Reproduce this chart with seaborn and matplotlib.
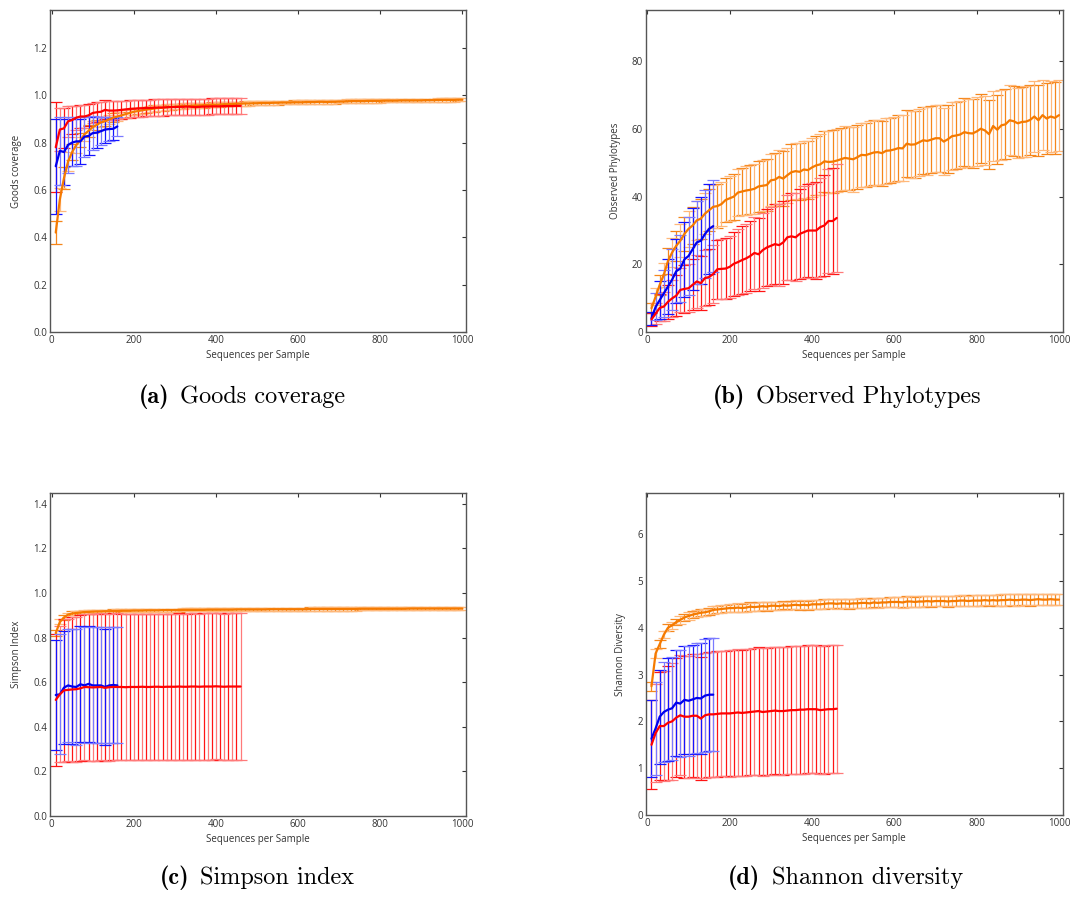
import numpy as np
import pandas as pd
import matplotlib
matplotlib.use("Agg")
import matplotlib.pyplot as plt
from matplotlib.offsetbox import TextArea, HPacker, AnnotationBbox
import seaborn as sns

# Rarefaction depths (sequences per sample)
x_blue = list(range(10, 161, 10))
x_red = list(range(10, 461, 10))
x_orange = list(range(10, 1001, 10))

# ---------------- Goods coverage ----------------
goods_blue = [0.70, 0.765, 0.76, 0.79, 0.80, 0.805, 0.805, 0.825, 0.828, 0.84,
              0.842, 0.848, 0.855, 0.857, 0.858, 0.868]
goods_blue_sd = [0.20, 0.145, 0.14, 0.12, 0.10, 0.105, 0.095, 0.085, 0.08, 0.072,
                 0.066, 0.06, 0.055, 0.05, 0.046, 0.042]
goods_red = [0.78, 0.855, 0.86, 0.89, 0.895, 0.905, 0.91, 0.91, 0.915, 0.925,
             0.928, 0.93, 0.938, 0.935, 0.935, 0.936, 0.938, 0.94, 0.942, 0.943,
             0.944, 0.945, 0.946, 0.946, 0.947, 0.948, 0.948, 0.949, 0.95, 0.95,
             0.951, 0.951, 0.952, 0.951, 0.95, 0.951, 0.952, 0.952, 0.953, 0.953,
             0.953, 0.954, 0.954, 0.954, 0.955, 0.955]
goods_red_sd = [0.19, 0.09, 0.085, 0.065, 0.06, 0.05, 0.05, 0.048, 0.046, 0.044,
                0.042, 0.041, 0.04, 0.04, 0.039, 0.038, 0.038, 0.037, 0.037, 0.036,
                0.036, 0.036, 0.035, 0.035, 0.035, 0.035, 0.034, 0.034, 0.034, 0.034,
                0.034, 0.034, 0.034, 0.034, 0.034, 0.034, 0.034, 0.034, 0.034, 0.034,
                0.034, 0.034, 0.034, 0.034, 0.034, 0.034]
goods_orange = [0.42, 0.56, 0.65, 0.72, 0.76, 0.79, 0.81, 0.835, 0.85, 0.865,
                0.875, 0.885, 0.89, 0.898, 0.905, 0.91, 0.915, 0.92, 0.925, 0.93,
                0.933, 0.936, 0.939, 0.941, 0.944, 0.946, 0.947, 0.949, 0.95, 0.952,
                0.953, 0.954, 0.955, 0.956, 0.957, 0.957, 0.958, 0.959, 0.96, 0.96,
                0.961, 0.962, 0.962, 0.963, 0.964, 0.964, 0.965, 0.965, 0.966, 0.966,
                0.967, 0.967, 0.967, 0.968, 0.968, 0.969, 0.969, 0.969, 0.97, 0.97,
                0.97, 0.971, 0.971, 0.971, 0.972, 0.972, 0.971, 0.972, 0.972, 0.973,
                0.973, 0.974, 0.975, 0.975, 0.975, 0.975, 0.976, 0.976, 0.976, 0.976,
                0.977, 0.977, 0.977, 0.977, 0.978, 0.978, 0.978, 0.978, 0.978, 0.978,
                0.979, 0.979, 0.979, 0.98, 0.98, 0.98, 0.98, 0.98, 0.981, 0.981]
goods_orange_sd = [0.05, 0.05, 0.045, 0.04, 0.035, 0.033, 0.03, 0.028, 0.026, 0.024,
                   0.022, 0.021, 0.02, 0.019, 0.018, 0.017, 0.016, 0.016, 0.015, 0.015,
                   0.014, 0.014, 0.013, 0.013, 0.013, 0.012, 0.012, 0.012, 0.012, 0.011,
                   0.011, 0.011, 0.011, 0.011, 0.010, 0.010, 0.010, 0.010, 0.010, 0.010,
                   0.010, 0.009, 0.009, 0.009, 0.009, 0.009, 0.009, 0.009, 0.009, 0.009,
                   0.009, 0.009, 0.008, 0.008, 0.008, 0.008, 0.008, 0.008, 0.008, 0.008,
                   0.008, 0.008, 0.008, 0.008, 0.008, 0.008, 0.008, 0.008, 0.008, 0.008,
                   0.008, 0.008, 0.008, 0.008, 0.008, 0.008, 0.008, 0.008, 0.008, 0.008,
                   0.007, 0.007, 0.007, 0.007, 0.007, 0.007, 0.007, 0.007, 0.007, 0.007,
                   0.007, 0.007, 0.007, 0.007, 0.007, 0.007, 0.007, 0.007, 0.007, 0.007]

# ---------------- Observed phylotypes ----------------
obs_blue = [4.1, 7.5, 9.5, 11.5, 13.5, 15.5, 18.0, 18.8, 21.5, 22.5,
            24.5, 26.5, 27.0, 29.0, 30.5, 31.3]
obs_blue_sd = [2.0, 4.0, 5.5, 7.0, 8.0, 9.0, 9.5, 10.0, 11.0, 11.5,
               12.0, 12.3, 12.8, 13.0, 13.2, 13.5]
obs_red = [3.8, 5.5, 7.2, 7.6, 9.0, 10.0, 10.8, 12.5, 12.8, 13.0,
           14.0, 15.0, 14.5, 16.0, 16.3, 17.2, 18.6, 18.7, 18.8, 19.3,
           20.2, 20.7, 21.3, 21.8, 22.5, 23.4, 23.0, 24.2, 25.0, 25.5,
           26.0, 25.7, 26.5, 28.0, 28.3, 28.0, 29.0, 29.5, 30.0, 30.0,
           30.0, 31.0, 31.5, 32.8, 32.8, 33.7]
obs_red_sd = [2.0, 3.0, 4.0, 4.2, 5.0, 5.5, 6.0, 6.5, 7.0, 7.0,
              7.5, 7.8, 8.0, 8.2, 8.3, 8.5, 8.7, 8.8, 9.0, 9.2,
              9.5, 9.7, 9.9, 10.1, 10.3, 10.5, 10.8, 11.0, 11.2, 11.5,
              11.8, 12.0, 12.2, 12.5, 12.8, 13.0, 13.3, 13.5, 13.8, 14.0,
              14.3, 14.6, 15.0, 15.4, 15.7, 16.0]
obs_orange = [7.1, 10.5, 14.0, 17.0, 21.0, 23.5, 25.5, 27.0, 29.0, 30.5,
              31.5, 33.0, 33.5, 35.0, 36.0, 37.0, 37.2, 37.8, 39.0, 39.5,
              40.0, 41.2, 41.5, 41.8, 42.0, 42.3, 43.0, 43.2, 43.4, 44.8,
              45.0, 45.8, 45.3, 46.3, 47.2, 47.5, 47.3, 48.0, 47.8, 48.6,
              49.2, 49.5, 50.4, 50.2, 50.3, 50.6, 51.0, 51.4, 51.2, 51.0,
              51.6, 52.3, 52.2, 52.6, 53.0, 53.1, 52.8, 53.5, 53.6, 53.9,
              54.3, 54.2, 55.6, 55.3, 55.4, 56.0, 56.6, 56.4, 56.8, 57.2,
              57.2, 56.2, 56.9, 57.8, 58.0, 58.3, 59.0, 58.7, 58.6, 59.2,
              60.0, 59.5, 58.4, 60.8, 59.7, 61.0, 61.3, 62.5, 62.2, 61.6,
              62.0, 62.1, 62.6, 63.6, 62.5, 64.0, 63.0, 63.6, 63.2, 64.0]
obs_orange_sd = [1.5, 2.5, 3.0, 3.5, 3.8, 4.2, 4.5, 4.8, 5.0, 5.3,
                 5.5, 5.7, 5.9, 6.0, 6.2, 6.3, 6.4, 6.5, 6.6, 6.7,
                 6.8, 6.9, 7.0, 7.1, 7.2, 7.3, 7.4, 7.5, 7.6, 7.7,
                 7.8, 7.9, 8.0, 8.1, 8.2, 8.3, 8.4, 8.5, 8.6, 8.7,
                 8.8, 8.9, 9.0, 9.1, 9.2, 9.3, 9.3, 9.4, 9.4, 9.5,
                 9.5, 9.5, 9.5, 9.6, 9.6, 9.6, 9.6, 9.7, 9.7, 9.7,
                 9.7, 9.7, 9.8, 9.8, 9.8, 9.8, 9.8, 9.9, 9.9, 9.9,
                 9.9, 9.9, 10.0, 10.0, 10.0, 10.0, 10.1, 10.1, 10.1, 10.1,
                 10.2, 10.2, 10.2, 10.2, 10.2, 10.3, 10.3, 10.3, 10.3, 10.3,
                 10.3, 10.4, 10.4, 10.4, 10.4, 10.4, 10.4, 10.5, 10.5, 10.5]

# ---------------- Simpson index ----------------
simp_blue = [0.542, 0.545, 0.575, 0.585, 0.58, 0.578, 0.59, 0.585, 0.592, 0.585,
             0.585, 0.585, 0.578, 0.585, 0.587, 0.585]
simp_blue_sd = [0.245, 0.27, 0.255, 0.255, 0.26, 0.26, 0.26, 0.26, 0.26, 0.26,
                0.26, 0.26, 0.26, 0.26, 0.26, 0.26]
simp_red = [0.52, 0.545, 0.563, 0.565, 0.567, 0.568, 0.572, 0.578, 0.577, 0.576,
            0.577, 0.578, 0.574, 0.577, 0.578, 0.578, 0.578, 0.577, 0.578, 0.578,
            0.578, 0.579, 0.578, 0.578, 0.579, 0.579, 0.578, 0.579, 0.579, 0.579,
            0.58, 0.579, 0.579, 0.58, 0.58, 0.579, 0.58, 0.58, 0.58, 0.581,
            0.58, 0.579, 0.58, 0.58, 0.58, 0.58]
simp_red_sd = [0.295, 0.305, 0.32, 0.32, 0.325, 0.325, 0.328, 0.328, 0.33, 0.33,
               0.33, 0.33, 0.33, 0.33, 0.33, 0.33, 0.328, 0.328, 0.328, 0.328,
               0.328, 0.328, 0.328, 0.328, 0.328, 0.328, 0.328, 0.328, 0.328, 0.328,
               0.328, 0.328, 0.328, 0.328, 0.328, 0.328, 0.328, 0.328, 0.328, 0.328,
               0.328, 0.328, 0.328, 0.328, 0.328, 0.328]
simp_orange = [0.82, 0.87, 0.89, 0.903, 0.908, 0.91, 0.912, 0.914, 0.915, 0.916,
               0.917, 0.917, 0.918, 0.918, 0.919, 0.919, 0.92, 0.92, 0.92, 0.921,
               0.921, 0.921, 0.922, 0.922, 0.922, 0.922, 0.923, 0.923, 0.923, 0.923,
               0.923, 0.924, 0.924, 0.924, 0.924, 0.924, 0.924, 0.925, 0.925, 0.925,
               0.925, 0.925, 0.925, 0.925, 0.926, 0.926, 0.926, 0.926, 0.926, 0.926,
               0.926, 0.926, 0.927, 0.927, 0.927, 0.927, 0.927, 0.927, 0.927, 0.927,
               0.927, 0.927, 0.928, 0.928, 0.928, 0.928, 0.928, 0.928, 0.928, 0.928,
               0.928, 0.928, 0.928, 0.928, 0.929, 0.929, 0.929, 0.929, 0.929, 0.929,
               0.929, 0.929, 0.929, 0.929, 0.929, 0.929, 0.93, 0.93, 0.93, 0.93,
               0.93, 0.93, 0.93, 0.93, 0.93, 0.93, 0.93, 0.93, 0.93, 0.93]
simp_orange_sd = [0.012, 0.011, 0.01, 0.009, 0.009, 0.008, 0.008, 0.008, 0.008, 0.008,
                  0.007, 0.007, 0.007, 0.007, 0.007, 0.007, 0.007, 0.007, 0.007, 0.007,
                  0.007, 0.007, 0.007, 0.007, 0.007, 0.007, 0.007, 0.007, 0.007, 0.007,
                  0.007, 0.007, 0.007, 0.007, 0.007, 0.007, 0.007, 0.007, 0.007, 0.007,
                  0.007, 0.007, 0.007, 0.007, 0.007, 0.007, 0.007, 0.007, 0.007, 0.007,
                  0.007, 0.007, 0.007, 0.007, 0.007, 0.007, 0.007, 0.007, 0.007, 0.007,
                  0.007, 0.007, 0.007, 0.007, 0.007, 0.007, 0.007, 0.007, 0.007, 0.007,
                  0.007, 0.007, 0.007, 0.007, 0.007, 0.007, 0.007, 0.007, 0.007, 0.007,
                  0.007, 0.007, 0.007, 0.007, 0.007, 0.007, 0.007, 0.007, 0.007, 0.007,
                  0.007, 0.007, 0.007, 0.007, 0.007, 0.007, 0.007, 0.007, 0.007, 0.007]

# ---------------- Shannon diversity ----------------
shan_blue = [1.63, 1.85, 2.10, 2.20, 2.25, 2.28, 2.40, 2.38, 2.46, 2.44,
             2.47, 2.50, 2.49, 2.55, 2.57, 2.57]
shan_blue_sd = [0.82, 1.0, 1.0, 1.07, 1.10, 1.10, 1.13, 1.15, 1.15, 1.17,
                1.17, 1.18, 1.18, 1.20, 1.20, 1.20]
shan_red = [1.50, 1.75, 1.90, 1.90, 1.97, 2.00, 2.08, 2.13, 2.10, 2.10,
            2.12, 2.12, 2.06, 2.13, 2.15, 2.15, 2.16, 2.17, 2.17, 2.17,
            2.18, 2.19, 2.18, 2.19, 2.20, 2.21, 2.22, 2.20, 2.21, 2.22,
            2.23, 2.22, 2.22, 2.23, 2.24, 2.24, 2.25, 2.25, 2.26, 2.26,
            2.26, 2.24, 2.25, 2.26, 2.26, 2.27]
shan_red_sd = [0.95, 1.05, 1.15, 1.18, 1.22, 1.25, 1.27, 1.28, 1.30, 1.30,
               1.31, 1.32, 1.32, 1.33, 1.33, 1.34, 1.34, 1.34, 1.34, 1.35,
               1.35, 1.35, 1.35, 1.35, 1.35, 1.36, 1.36, 1.36, 1.36, 1.36,
               1.36, 1.36, 1.36, 1.36, 1.36, 1.37, 1.37, 1.37, 1.37, 1.37,
               1.37, 1.37, 1.37, 1.37, 1.37, 1.37]
shan_orange = [2.75, 3.45, 3.65, 3.85, 4.00, 4.05, 4.12, 4.17, 4.22, 4.25,
               4.28, 4.30, 4.32, 4.33, 4.35, 4.38, 4.39, 4.40, 4.41, 4.42,
               4.42, 4.43, 4.42, 4.43, 4.45, 4.44, 4.45, 4.46, 4.45, 4.47,
               4.47, 4.46, 4.48, 4.47, 4.48, 4.49, 4.48, 4.49, 4.48, 4.50,
               4.50, 4.50, 4.51, 4.52, 4.52, 4.51, 4.52, 4.52, 4.51, 4.52,
               4.52, 4.53, 4.53, 4.52, 4.54, 4.53, 4.54, 4.54, 4.55, 4.55,
               4.55, 4.54, 4.56, 4.56, 4.55, 4.56, 4.56, 4.57, 4.56, 4.57,
               4.57, 4.57, 4.56, 4.57, 4.57, 4.58, 4.58, 4.57, 4.58, 4.58,
               4.58, 4.59, 4.58, 4.59, 4.58, 4.59, 4.59, 4.60, 4.59, 4.59,
               4.60, 4.60, 4.59, 4.60, 4.61, 4.60, 4.60, 4.61, 4.60, 4.60]
shan_orange_sd = [0.10, 0.09, 0.08, 0.08, 0.07, 0.07, 0.07, 0.08, 0.08, 0.08,
                  0.08, 0.08, 0.08, 0.08, 0.08, 0.08, 0.08, 0.08, 0.08, 0.08,
                  0.09, 0.09, 0.09, 0.09, 0.09, 0.09, 0.09, 0.09, 0.09, 0.09,
                  0.09, 0.09, 0.09, 0.09, 0.09, 0.10, 0.10, 0.10, 0.10, 0.10,
                  0.10, 0.10, 0.10, 0.10, 0.10, 0.10, 0.10, 0.10, 0.10, 0.10,
                  0.10, 0.10, 0.10, 0.10, 0.10, 0.10, 0.10, 0.10, 0.10, 0.10,
                  0.11, 0.11, 0.11, 0.11, 0.11, 0.11, 0.11, 0.11, 0.11, 0.11,
                  0.11, 0.11, 0.11, 0.11, 0.11, 0.11, 0.11, 0.11, 0.11, 0.11,
                  0.11, 0.11, 0.11, 0.11, 0.12, 0.12, 0.12, 0.12, 0.12, 0.12,
                  0.12, 0.12, 0.12, 0.12, 0.12, 0.12, 0.12, 0.12, 0.12, 0.12]

panels = [
    dict(tag="(a)", title="Goods coverage", ylabel="Goods coverage",
         ylim=(0, 1.36), yticks=[0.0, 0.2, 0.4, 0.6, 0.8, 1.0, 1.2], fmt="{:.1f}",
         blue=(goods_blue, goods_blue_sd), red=(goods_red, goods_red_sd),
         orange=(goods_orange, goods_orange_sd),
         rect=[0.0466, 0.6299, 0.3877, 0.3590], cap=(0.2255, 0.5574)),
    dict(tag="(b)", title="Observed Phylotypes", ylabel="Observed Phylotypes",
         ylim=(0, 95), yticks=[0, 20, 40, 60, 80], fmt="{:d}",
         blue=(obs_blue, obs_blue_sd), red=(obs_red, obs_red_sd),
         orange=(obs_orange, obs_orange_sd),
         rect=[0.6018, 0.6295, 0.3886, 0.3594], cap=(0.789, 0.5574)),
    dict(tag="(c)", title="Simpson index", ylabel="Simpson Index",
         ylim=(0, 1.45), yticks=[0.0, 0.2, 0.4, 0.6, 0.8, 1.0, 1.2, 1.4], fmt="{:.1f}",
         blue=(simp_blue, simp_blue_sd), red=(simp_red, simp_red_sd),
         orange=(simp_orange, simp_orange_sd),
         rect=[0.0466, 0.0906, 0.3877, 0.3601], cap=(0.2395, 0.0212)),
    dict(tag="(d)", title="Shannon diversity", ylabel="Shannon Diversity",
         ylim=(0, 6.87), yticks=[0, 1, 2, 3, 4, 5, 6], fmt="{:d}",
         blue=(shan_blue, shan_blue_sd), red=(shan_red, shan_red_sd),
         orange=(shan_orange, shan_orange_sd),
         rect=[0.6018, 0.0914, 0.3886, 0.3586], cap=(0.788, 0.0212)),
]

styles = {
    "orange": dict(x=x_orange, line="#f57a00", dark="#f5861a", light="#ffb87a"),
    "red": dict(x=x_red, line="#ff0000", dark="#ff1414", light="#ff7a7a"),
    "blue": dict(x=x_blue, line="#0000ee", dark="#1414ff", light="#7a7aff"),
}

sns.set_theme(style="white")
plt.rcParams["font.family"] = ["Open Sans", "DejaVu Sans"]

fig = plt.figure(figsize=(10.73, 8.97), dpi=100)
fig.patch.set_facecolor("white")

for p in panels:
    ax = fig.add_axes(p["rect"])
    ax.set_facecolor("white")
    # error bars, alternating dark / light shades
    for key in ["orange", "red", "blue"]:
        st = styles[key]
        mean, sd = p[key]
        df = pd.DataFrame({"x": st["x"], "y": mean, "sd": sd})
        for sl, col in [(slice(0, None, 2), st["dark"]), (slice(1, None, 2), st["light"])]:
            sub = df.iloc[sl]
            ax.errorbar(sub["x"], sub["y"], yerr=sub["sd"], fmt="none",
                        ecolor=col, elinewidth=0.9, capsize=4.6, capthick=0.9, zorder=2)
    # mean curves
    for key in ["orange", "blue", "red"]:
        st = styles[key]
        mean, sd = p[key]
        df = pd.DataFrame({"x": st["x"], "y": mean})
        sns.lineplot(data=df, x="x", y="y", ax=ax, color=st["line"], linewidth=1.6,
                     errorbar=None, zorder=3)

    ax.set_xlim(-4, 1009)
    ax.set_ylim(*p["ylim"])
    ax.set_xticks([0, 200, 400, 600, 800, 1000])
    ax.set_yticks(p["yticks"])
    ax.set_yticklabels([p["fmt"].format(v) for v in p["yticks"]])
    ax.tick_params(direction="in", top=True, right=True, length=3, width=0.8,
                   color="#333333", labelcolor="#333333", labelsize=7, pad=2)
    for s in ax.spines.values():
        s.set_color("#555555")
        s.set_linewidth(1.0)
    ax.set_xlabel("Sequences per Sample", fontsize=7, color="#333333", labelpad=3)
    ax.set_ylabel(p["ylabel"], fontsize=7, color="#333333", labelpad=8)

    # sub-figure caption: bold tag followed by roman text
    tag = TextArea(p["tag"], textprops=dict(family="cmb10", size=17.5, color="black"))
    txt = TextArea(p["title"], textprops=dict(family="cmr10", size=17.5, color="black"))
    box = HPacker(children=[tag, txt], sep=8, align="baseline", pad=0)
    ab = AnnotationBbox(box, p["cap"], xycoords="figure fraction", frameon=False,
                        box_alignment=(0.5, 0.5), pad=0)
    fig.add_artist(ab)

fig.savefig("out.png", dpi=100, facecolor="white")
